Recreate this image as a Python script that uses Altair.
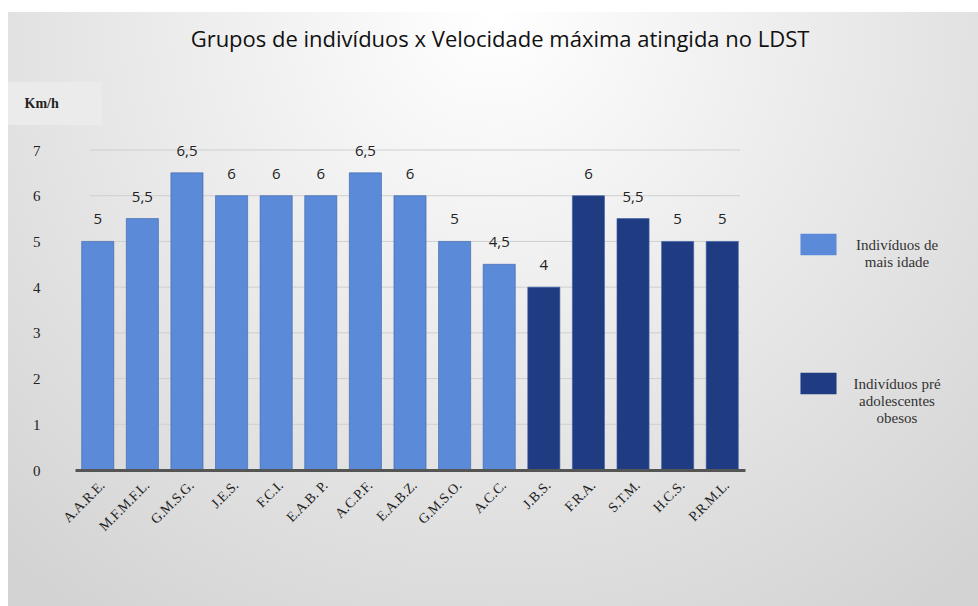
import altair as alt
import pandas as pd

title_text = "Grupos de indivíduos x Velocidade máxima atingida no LDST"
categories = ["A.A.R.E.", "M.F.M.F.L.", "G.M.S.G.", "J.E.S.", "F.C.I.", "E.A.B. P.",
              "A.C.P.F.", "E.A.B.Z.", "G.M.S.O.", "A.C.C.", "J.B.S.", "F.R.A.",
              "S.T.M.", "H.C.S.", "P.R.M.L."]
values = [5, 5.5, 6.5, 6, 6, 6, 6.5, 6, 5, 4.5, 4, 6, 5.5, 5, 5]
groups = ["Indivíduos de mais idade"] * 10 + ["Indivíduos pré adolescentes obesos"] * 5
group_names = ["Indivíduos de mais idade", "Indivíduos pré adolescentes obesos"]
group_colors = ["#5b8bd8", "#1f3c82"]
y_ticks = [0, 1, 2, 3, 4, 5, 6, 7]
grid_values = [1, 2, 3, 4, 5, 6, 7]

df = pd.DataFrame({"cat": categories, "v": values, "g": groups})
grid_df = pd.DataFrame({"v": grid_values})

W, H = 670, 320
PL, PT, PR, PB = 75, 150, 233, 136

yaxis = alt.Axis(values=y_ticks, title="Km/h", titleAngle=0,
                 titleX=-51, titleY=-47, titleAlign="left", titleBaseline="middle",
                 titleFont="Liberation Serif", titleFontSize=14, titleFontWeight="bold",
                 titleColor="#222222",
                 labelFont="Liberation Serif", labelFontSize=15, labelColor="#222222",
                 labelPadding=35, ticks=False, domain=False, grid=False, zindex=1)
yscale = alt.Scale(domain=[0, 7])

bg = alt.Chart(pd.DataFrame({"a": [0]})).mark_rect(
    color={"gradient": "radial", "x1": 0.5, "y1": 0.2, "r1": 0.0,
           "x2": 0.5, "y2": 0.2, "r2": 0.75,
           "stops": [{"offset": 0, "color": "#ffffff"}, {"offset": 1, "color": "#d3d3d3"}]}
).encode(x=alt.value(-67), x2=alt.value(978 - PL), y=alt.value(-138), y2=alt.value(606 - PT))

kmbox = alt.Chart(pd.DataFrame({"a": [0]})).mark_rect(color="#ebebeb").encode(
    x=alt.value(-67), x2=alt.value(27), y=alt.value(-68), y2=alt.value(-25))

title = alt.Chart(pd.DataFrame({"a": [0]})).mark_text(
    font="Open Sans", fontSize=22, fontWeight=500, color="#111111",
    align="center", baseline="middle"
).encode(x=alt.value(425), y=alt.value(-110), text=alt.value(title_text))

grid = alt.Chart(grid_df).mark_rule(color="#cfcfcf", strokeWidth=1).encode(
    y=alt.Y("v:Q", scale=yscale, axis=yaxis),
    x=alt.value(15), x2=alt.value(W - 5),
)

base = alt.Chart(df)

bars = base.mark_bar(stroke="#3a5fa8", strokeWidth=0.6).encode(
    x=alt.X("cat:N", sort=categories,
            scale=alt.Scale(paddingInner=0.28, paddingOuter=0.15),
            axis=alt.Axis(title=None, labelAngle=-45, labelAlign="right", labelBaseline="top",
                          labelFont="Liberation Serif", labelFontSize=14, labelColor="#222222",
                          ticks=False, domainColor="#555555", domainWidth=3, labelPadding=8,
                          zindex=1)),
    y=alt.Y("v:Q", scale=yscale, axis=yaxis),
    color=alt.Color("g:N", scale=alt.Scale(domain=group_names, range=group_colors),
                    legend=alt.Legend(title=None, orient="none", legendX=725, legendY=76,
                                      direction="vertical",
                                      symbolType="M-1,-0.6H1V0.6H-1Z", symbolSize=1300,
                                      symbolStrokeWidth=0, symbolOpacity=1,
                                      labelFont="Liberation Serif", labelFontSize=15,
                                      labelColor="#333333", labelAlign="center", labelOffset=60,
                                      labelLimit=300, rowPadding=95,
                                      labelExpr="datum.label == 'Indivíduos de mais idade' ? ['Indivíduos de', 'mais idade'] : ['Indivíduos pré', 'adolescentes', 'obesos']")),
)

labels = base.transform_calculate(
    lab="replace(format(datum.v, ''), '.', ',')"
).mark_text(baseline="bottom", dy=-14, font="Open Sans", fontSize=15, color="#222222").encode(
    x=alt.X("cat:N", sort=categories),
    y=alt.Y("v:Q", scale=yscale, axis=yaxis),
    text="lab:N",
)

chart = alt.layer(bg, kmbox, title, grid, bars, labels).properties(
    width=W, height=H,
    autosize=alt.AutoSizeParams(type="none"),
    padding={"left": PL, "top": PT, "right": PR, "bottom": PB},
    background="#ffffff",
).configure_view(stroke=None)

chart.save("out.html", embed_options={"renderer": "svg", "actions": False})
